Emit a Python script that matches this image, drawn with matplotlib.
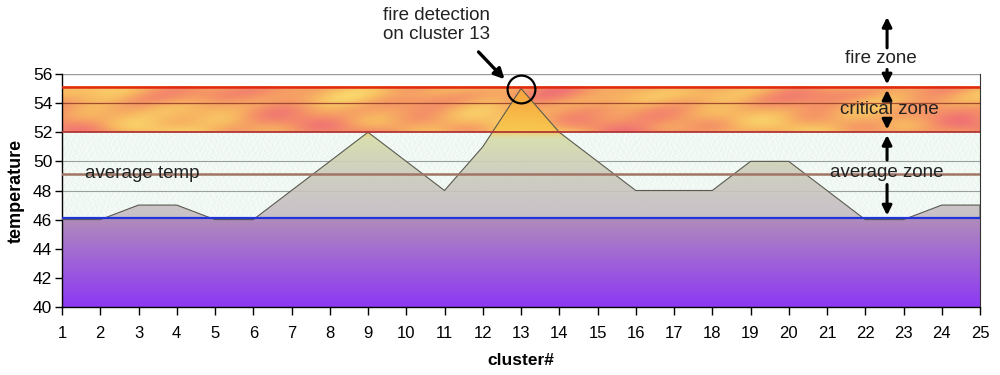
import numpy as np
import matplotlib
matplotlib.use("Agg")
import matplotlib.pyplot as plt
from matplotlib.colors import LinearSegmentedColormap

# ---- data ----
clusters = list(range(1, 26))
temps = [46, 46, 47, 47, 46, 46, 48, 50, 52, 50, 48, 51, 55, 52, 50,
         48, 48, 48, 50, 50, 48, 46, 46, 47, 47]
avg_temp = 49.1
zone_low = 46.1       # bottom of average zone
zone_critical = 52.0  # start of critical zone
zone_fire = 55.1      # start of fire zone
detect_idx = 12       # cluster 13
yticks = list(range(40, 57, 2))

plt.rcParams['font.family'] = ['Liberation Sans', 'DejaVu Sans']

fig = plt.figure(figsize=(10, 3.75), dpi=100)
ax = fig.add_axes([0.062, 0.1813, 0.918, 0.6214])
ax.set_xlim(1, 25)
ax.set_ylim(40, 56)

# ---- backgrounds ----
# purple gradient below 46
grad = np.linspace(0, 1, 256).reshape(-1, 1)
purple = LinearSegmentedColormap.from_list('p', [(0.55, 0.22, 0.95), (0.62, 0.38, 0.85), (0.69, 0.55, 0.73)])
ax.imshow(grad, cmap=purple, extent=(1, 25, 40, zone_low), origin='lower',
          aspect='auto', zorder=0)

# average zone: light speckled mint
xx, yy = np.meshgrid(np.linspace(0, 1, 900), np.linspace(0, 1, 90))
speck = (np.sin(xx * 1517 + np.sin(yy * 97) * 3) * np.sin(yy * 433 + np.sin(xx * 211) * 3))
mint = LinearSegmentedColormap.from_list('m', [(0.89, 0.94, 0.91), (0.95, 0.98, 0.96), (0.99, 1.0, 0.99)])
ax.imshow(speck, cmap=mint, extent=(1, 25, zone_low, zone_critical), origin='lower',
          aspect='auto', zorder=0, vmin=-1, vmax=1, interpolation='bilinear')

# critical zone: mottled flame (smooth blobs)
xx, yy = np.meshgrid(np.linspace(0, 1, 600), np.linspace(0, 1, 60))
flame = (np.sin(xx * 31 + 1.3 + 1.5 * np.sin(yy * 4)) * np.sin(yy * 4 + xx * 13 + 0.5) +
         0.7 * np.sin(xx * 53 - yy * 3 + 0.4) * np.cos(yy * 5 - xx * 21) +
         0.5 * np.sin(xx * 19 + yy * 3 + 2.0))
fcm = LinearSegmentedColormap.from_list('f', [(0.98, 0.84, 0.42), (0.97, 0.72, 0.38),
                                              (0.96, 0.58, 0.40), (0.94, 0.45, 0.45)])
ax.imshow(flame, cmap=fcm, extent=(1, 25, zone_critical, zone_fire), origin='lower',
          aspect='auto', zorder=0, interpolation='bicubic')

# area under the data curve
poly = ax.fill_between(clusters, zone_low, temps, facecolor='none', edgecolor='#5a5a50',
                       linewidth=0.8, zorder=3)
area_cm = LinearSegmentedColormap.from_list('a', [
    (0.0, (0.77, 0.73, 0.77)), (0.35, (0.80, 0.80, 0.73)), (0.6, (0.84, 0.86, 0.66)),
    (0.66, (0.97, 0.78, 0.30)), (1.0, (0.98, 0.64, 0.22))])
agrad = np.linspace(0, 1, 256).reshape(-1, 1)
im = ax.imshow(agrad, cmap=area_cm, extent=(1, 25, zone_low, 55.2), origin='lower',
               aspect='auto', zorder=2, alpha=0.9)
im.set_clip_path(poly.get_paths()[0], transform=ax.transData)

# ---- lines ----
for y in [48, 50]:
    ax.axhline(y, color='#9aa0a0', lw=0.8, zorder=1)
ax.axhline(54, color='#a04a30', lw=0.9, zorder=1)
ax.axhline(56, color='#999999', lw=1.0, zorder=1)
ax.axhline(avg_temp, color='#a07565', lw=1.8, zorder=4)
ax.axhline(zone_critical, color='#b03535', lw=1.3, zorder=4)
ax.axhline(zone_fire, color='#e02a10', lw=1.8, zorder=4)
ax.axhline(zone_low, color='#1f35d8', lw=1.6, zorder=4)

# ---- axes styling ----
ax.set_xticks(clusters)
ax.set_xticklabels([str(c) for c in clusters], fontsize=12)
ax.set_yticks(yticks)
ax.set_yticklabels([str(t) for t in yticks], fontsize=12.5)
ax.tick_params(axis='x', length=6, width=1, pad=8, direction='out')
ax.tick_params(axis='y', length=5, width=1, pad=2, direction='out')
ax.spines['top'].set_visible(False)
ax.spines['right'].set_color('#333333')
ax.spines['left'].set_linewidth(1.0)
ax.spines['bottom'].set_linewidth(1.0)
ax.set_xlabel('cluster#', fontsize=12.5, fontweight='bold', labelpad=8)
ax.set_ylabel('temperature', fontsize=13, fontweight='bold', labelpad=6)

# ---- annotations ----
tkw = dict(fontsize=13.5, ha='center', va='center', color='#222222')
ax.text(3.1, 49.2, 'average temp', zorder=6, **tkw)
ax.plot(clusters[detect_idx], temps[detect_idx], marker='o', ms=20, mfc='none', mec='black',
        mew=1.6, zorder=7, clip_on=False)
ax.text(10.8, 59.35, 'fire detection\non cluster 13', linespacing=1.15, **tkw)
ax.annotate('', xy=(12.62, 55.5), xytext=(11.84, 57.65),
            arrowprops=dict(arrowstyle='-|>', color='black', lw=2.4, mutation_scale=15),
            annotation_clip=False)

zx = 22.57
arrow_kw = dict(arrowstyle='-|>', color='black', lw=2.2, mutation_scale=14)
# fire zone
ax.text(22.4, 57.03, 'fire zone', zorder=8, **tkw)
ax.annotate('', xy=(zx, 60.1), xytext=(zx, 57.6), arrowprops=arrow_kw, annotation_clip=False)
ax.annotate('', xy=(zx, 55.1), xytext=(zx, 56.5), arrowprops=arrow_kw, annotation_clip=False)
# critical zone
ax.text(22.62, 53.53, 'critical zone', zorder=8, **tkw)
ax.annotate('', xy=(zx, 55.1), xytext=(zx, 54.2), arrowprops=arrow_kw, annotation_clip=False)
ax.annotate('', xy=(zx, 52.0), xytext=(zx, 52.9), arrowprops=arrow_kw, annotation_clip=False)
# average zone
ax.text(22.55, 49.27, 'average zone', zorder=8, **tkw)
ax.annotate('', xy=(zx, 52.0), xytext=(zx, 49.9), arrowprops=arrow_kw, annotation_clip=False)
ax.annotate('', xy=(zx, 46.1), xytext=(zx, 48.6), arrowprops=arrow_kw, annotation_clip=False)

fig.savefig('out.png', dpi=100)
